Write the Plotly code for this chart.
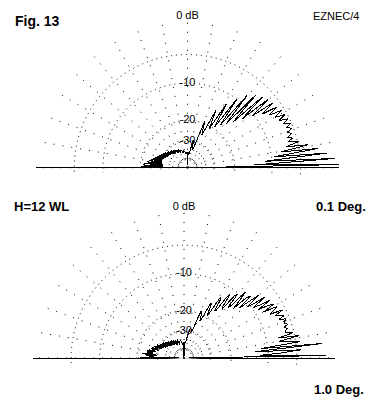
import plotly.graph_objects as go

# ---------------- data ----------------
# grid rings (dB) and the labelled rings
ring_db = [0, -5, -10, -20, -30, -40, -50]
label_db = [0, -10, -20, -30]
label_text = ["0 dB", "-10", "-20", "-30"]

# Upper pattern (0.1 deg step): lobe peak / null vertices, elevation angle (deg) and gain (dB)
top_theta = [0, 1.2, 2.4, 3.6, 4.8, 6.0, 7.2, 8.4, 9.6, 10.8, 12.0, 13.3, 14.5, 15.7, 16.9,
             18.2, 19.5, 20.7, 22.0, 23.3, 24.6, 25.9, 27.3, 28.6, 30.0, 31.4, 32.8, 34.2,
             35.7, 37.2, 38.7, 40.3, 41.8, 43.4, 45.1, 46.8, 48.6, 50.5, 52.4, 54.3, 56.4,
             58.6, 61.0, 63.6, 66.4, 69.6, 73.7, 78.3, 84.0, 88.5, 89.5, 90.0,
             90.5, 91.5, 96.0, 101.7, 106.3, 110.4, 113.6, 116.4, 119.0, 121.4, 123.6,
             125.7, 127.6, 129.5, 131.4, 133.2, 134.9, 136.6, 138.2, 139.7, 141.3, 142.8,
             144.3, 145.8, 147.2, 148.6, 150.0, 151.4, 152.7, 154.1, 155.4, 156.7, 158.0,
             159.3, 160.5, 161.8, 163.1, 164.3, 165.5, 166.7, 168.0, 169.2, 170.4, 171.6,
             172.8, 174.0, 175.2, 176.4, 177.6, 178.8, 180.0]
top_db = [-60, 0, -14, -0.4, -11.5, -1.3, -9.5, -2.4, -8, -3.6, -7, -4.8, -6.5, -5.6, -6.4,
          -5.5, -6.2, -5.2, -6.0, -5.1, -6.3, -5.2, -6.6, -5.3, -7.0, -5.5, -7.6, -5.7,
          -8.6, -5.9, -10.3, -6.2, -12.5, -6.6, -14.5, -7.1, -16.3, -8.3, -17.8, -10.0, -19.5,
          -12.2, -21, -14.8, -25, -19, -36, -29, -42, -39, -38.5, -70,
          -38.5, -39, -41, -37, -39, -35.5, -38, -34.5, -37, -33.8, -36.5,
          -33.2, -36, -32.6, -35.5, -32, -35, -31.4, -34.5, -30.8, -34, -30.2,
          -33.5, -29.6, -33, -29, -32.5, -28.4, -32, -27.8, -31.5, -27.2, -31,
          -26.5, -30.5, -25.8, -30, -25, -30, -24.1, -30, -23.2, -30.5, -22.3,
          -31, -21.5, -31, -20.8, -31, -20.2, -60]

# Lower pattern (1.0 deg step): one gain value (dB) per degree, 0..180
bot_theta = list(range(0, 181))
bot_db = [-60, -1.0, -11.8, -7.4, -4.4, -12.9, -1.4, -11.5, -4.4, -6.6,
          -7.6, -4.3, -7.7, -5.2, -6.3, -6.2, -5.8, -6.3, -5.6, -6.0,
          -6.0, -5.5, -6.7, -5.6, -6.3, -7.0, -5.5, -7.7, -6.7, -6.1,
          -8.5, -6.3, -7.2, -9.2, -6.4, -8.4, -9.9, -6.9, -9.2, -10.8,
          -7.5, -9.6, -12.0, -8.7, -9.4, -13.2, -10.9, -8.9, -13.0, -14.0,
          -10.2, -11.0, -15.4, -14.8, -11.3, -12.5, -16.8, -16.9, -13.5, -12.9,
          -16.7, -19.6, -18.3, -15.6, -15.7, -19.0, -22.3, -22.7, -20.7, -18.9,
          -19.2, -22.0, -25.6, -28.2, -29.1, -28.7, -27.9, -27.5, -27.8, -29.1,
          -31.0, -32.8, -34.9, -36.6, -38.0, -39.0, -39.5, -40.0, -40.0, -39.0,
          -80,
          -39, -41, -41.5, -41.5, -41.2, -40.7, -40.1, -39.3, -38.3, -37.3,
          -36.6, -36.2, -36.7, -37.7, -39.1, -40.2, -40.2, -38.9, -36.8, -35.1,
          -35.3, -37.3, -39.3, -39.3, -37.0, -34.6, -34.9, -37.6, -39.1, -37.0,
          -34.2, -34.7, -37.9, -38.1, -34.5, -33.5, -37.0, -37.8, -33.8, -33.2,
          -37.1, -36.2, -32.0, -34.2, -37.0, -32.8, -32.0, -36.2, -33.4, -30.8,
          -35.2, -33.3, -30.1, -34.6, -32.5, -29.6, -34.3, -31.1, -29.7, -34.0,
          -29.2, -30.4, -32.6, -27.5, -31.5, -29.8, -27.5, -31.6, -26.8, -29.1,
          -29.2, -25.7, -30.1, -25.4, -27.6, -27.6, -24.4, -28.6, -23.6, -26.7,
          -25.6, -23.9, -28.8, -21.8, -29.3, -23.6, -25.4, -27.9, -21.3, -60]

assert len(top_theta) == len(top_db)
assert len(bot_theta) == len(bot_db)


def arrl(db):
    """ARRL log radial scale used by EZNEC (0.89 per 2 dB)."""
    return 0.89 ** (-db / 2.0)


FONT = "Liberation Sans, Arial, sans-serif"
W, H = 376, 400
BELOW = 3.4  # degrees of grid drawn below the horizon, as in EZNEC

fig = go.Figure()


def add_pattern(subplot, theta, db):
    # baseline (horizon) across the full diameter
    fig.add_trace(go.Scatterpolar(
        theta=[180, 0, 0], r=[arrl(0), 0, arrl(0)], mode="lines",
        line=dict(color="black", width=1), hoverinfo="skip",
        showlegend=False, subplot=subplot, cliponaxis=False))
    # pattern
    fig.add_trace(go.Scatterpolar(
        theta=theta, r=[arrl(v) for v in db], mode="lines",
        line=dict(color="black", width=1), hoverinfo="skip",
        showlegend=False, subplot=subplot, cliponaxis=False))
    # ring labels on the vertical axis
    fig.add_trace(go.Scatterpolar(
        theta=[90] * len(label_db), r=[arrl(v) for v in label_db],
        mode="text", text=label_text, textposition="middle center",
        textfont=dict(family=FONT, size=11, color="black"),
        hoverinfo="skip", showlegend=False, subplot=subplot, cliponaxis=False))


add_pattern("polar", top_theta, top_db)
add_pattern("polar2", bot_theta, bot_db)


def polar_layout(x0, x1, ytop, ybase, radius):
    ybottom = ybase + radius * 0.0593  # sin(3.4 deg): grid dips below horizon
    return dict(
        domain=dict(x=[x0 / W, x1 / W], y=[1 - ybottom / H, 1 - ytop / H]),
        sector=[-BELOW, 180 + BELOW],
        bgcolor="white",
        radialaxis=dict(range=[0, 1.0], tickmode="array",
                        tickvals=[arrl(v) for v in ring_db],
                        showticklabels=False, ticks="", showline=False,
                        gridcolor="black", gridwidth=1, griddash="1px,4px"),
        angularaxis=dict(tickmode="array", tickvals=list(range(0, 181, 10)),
                         showticklabels=False, ticks="", showline=False,
                         gridcolor="black", gridwidth=1, griddash="1px,8px"),
    )


annotations = []


def note(text, x, y, size, bold):
    annotations.append(dict(
        text=f"<b>{text}</b>" if bold else text, x=x / W, y=1 - y / H,
        xref="paper", yref="paper", xanchor="left", yanchor="middle",
        showarrow=False, font=dict(family=FONT, size=size, color="black")))


note("Fig. 13", 13, 21, 14, True)
note("EZNEC/4", 311, 16, 11, False)
note("0.1 Deg.", 314, 207, 13, True)
note("H=12 WL", 12, 206, 13, True)
note("1.0 Deg.", 312, 389, 13, True)

fig.update_layout(
    width=W, height=H,
    margin=dict(l=0, r=0, t=0, b=0),
    paper_bgcolor="white", plot_bgcolor="white",
    polar=polar_layout(36, 339, 16, 168, 151.5),
    polar2=polar_layout(33, 335, 207, 358, 151),
    annotations=annotations,
    showlegend=False,
    hovermode=False,
)

crisp_js = (
    "document.body.style.margin='0';document.body.style.padding='0';"
    "document.body.style.overflow='hidden';"
    "function crisp(){document.querySelectorAll('.scatterlayer path.js-line')"
    ".forEach(function(p){p.style.shapeRendering='crispEdges';});}"
    "crisp();setTimeout(crisp,0);setTimeout(crisp,100);"
)

fig.write_html(
    "out.html",
    config={"displayModeBar": False, "staticPlot": True},
    post_script=crisp_js,
)
